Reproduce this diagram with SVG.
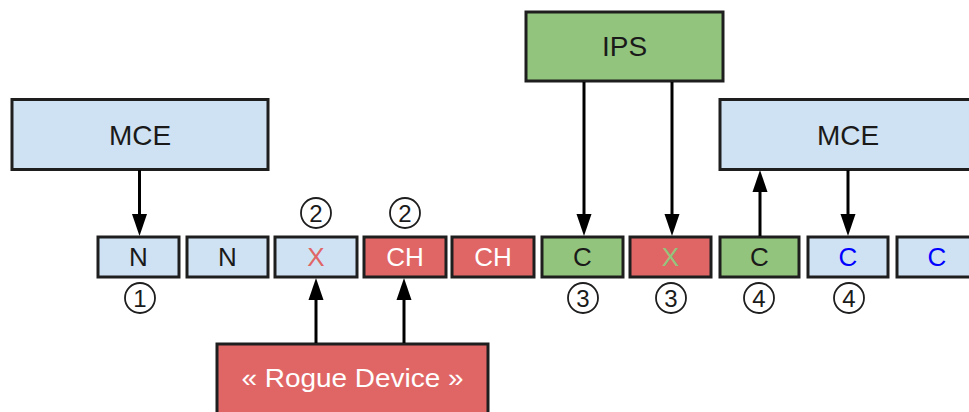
<svg xmlns="http://www.w3.org/2000/svg" width="969" height="412" viewBox="0 0 969 412">
  <defs>
    <marker id="head" markerUnits="userSpaceOnUse" markerWidth="22" markerHeight="15" refX="1" refY="7.5" orient="auto" overflow="visible">
      <path d="M0,0 L22,7.5 L0,15 Z" fill="#000"/>
    </marker>
  </defs>
  <style>
    .box { stroke: #1e1e1e; stroke-width: 3; }
    .blue { fill: #cfe2f3; }
    .red { fill: #e06666; }
    .green { fill: #93c47d; }
    text { font-family: "Liberation Sans", Arial, sans-serif; text-anchor: middle; }
    .big { font-size: 28px; fill: #1a1a1a; }
    .cell { font-size: 26px; fill: #1a1a1a; }
    .white { fill: #ffffff; }
    .redtxt { fill: #e06666; }
    .greentxt { fill: #93c47d; }
    .bluetxt { fill: #0000ff; }
    .num circle { fill: #ffffff; stroke: #1e1e1e; stroke-width: 1.8; }
    .num text { font-size: 24px; fill: #1a1a1a; }
    .conn line { stroke: #000; stroke-width: 3; marker-end: url(#head); }
  </style>
  <rect width="969" height="412" fill="#ffffff"/>

  <!-- controllers -->
  <g id="mce-left">
    <rect class="box blue" x="12" y="99.5" width="256" height="70"/>
    <text class="big" x="140" y="145">MCE</text>
  </g>
  <g id="ips">
    <rect class="box green" x="526" y="12" width="197" height="69"/>
    <text class="big" x="624.5" y="56">IPS</text>
  </g>
  <g id="mce-right">
    <rect class="box blue" x="720" y="99.5" width="256" height="70"/>
    <text class="big" x="848" y="145">MCE</text>
  </g>
  <g id="rogue">
    <rect class="box red" x="217" y="344" width="271" height="72"/>
    <text class="cell white" x="352.5" y="387" font-size="24" textLength="222" lengthAdjust="spacingAndGlyphs">« Rogue Device »</text>
  </g>

  <!-- message cells -->
  <g id="cell-1"><rect class="box blue" x="98" y="237" width="81" height="40"/><text class="cell" x="138.5" y="266">N</text></g>
  <g id="cell-2"><rect class="box blue" x="187" y="237" width="81" height="40"/><text class="cell" x="227.5" y="266">N</text></g>
  <g id="cell-3"><rect class="box blue" x="275" y="237" width="82" height="40"/><text class="cell redtxt" x="316" y="266">X</text></g>
  <g id="cell-4"><rect class="box red" x="364" y="237" width="82" height="40"/><text class="cell white" x="405" y="266">CH</text></g>
  <g id="cell-5"><rect class="box red" x="452" y="237" width="82" height="40"/><text class="cell white" x="493" y="266">CH</text></g>
  <g id="cell-6"><rect class="box green" x="542" y="237" width="81" height="40"/><text class="cell" x="582.5" y="266">C</text></g>
  <g id="cell-7"><rect class="box red" x="630" y="237" width="81" height="40"/><text class="cell greentxt" x="670.5" y="266">X</text></g>
  <g id="cell-8"><rect class="box green" x="720" y="237" width="79" height="40"/><text class="cell" x="759.5" y="266">C</text></g>
  <g id="cell-9"><rect class="box blue" x="808" y="237" width="80" height="40"/><text class="cell bluetxt" x="848" y="266">C</text></g>
  <g id="cell-10"><rect class="box blue" x="897" y="237" width="81" height="40"/><text class="cell bluetxt" x="937" y="266">C</text></g>

  <!-- step markers -->
  <g id="step-1a" class="num"><circle cx="140" cy="298" r="15"/><text x="140" y="306.5">1</text></g>
  <g id="step-2a" class="num"><circle cx="316" cy="213" r="15"/><text x="316" y="221.5">2</text></g>
  <g id="step-2b" class="num"><circle cx="405" cy="213" r="15"/><text x="405" y="221.5">2</text></g>
  <g id="step-3a" class="num"><circle cx="583" cy="298" r="15"/><text x="583" y="306.5">3</text></g>
  <g id="step-3b" class="num"><circle cx="671" cy="298" r="15"/><text x="671" y="306.5">3</text></g>
  <g id="step-4a" class="num"><circle cx="759" cy="298" r="15"/><text x="759" y="306.5">4</text></g>
  <g id="step-4b" class="num"><circle cx="849" cy="298" r="15"/><text x="849" y="306.5">4</text></g>

  <!-- connectors -->
  <g id="connectors" class="conn">
    <line x1="139.5" y1="170" x2="139.5" y2="215"/>
    <line x1="316" y1="343" x2="316" y2="299"/>
    <line x1="404" y1="343" x2="404" y2="299"/>
    <line x1="584" y1="82" x2="584" y2="215"/>
    <line x1="672" y1="82" x2="672" y2="215"/>
    <line x1="760" y1="236" x2="760" y2="191"/>
    <line x1="848" y1="170" x2="848" y2="215"/>
  </g>
</svg>
